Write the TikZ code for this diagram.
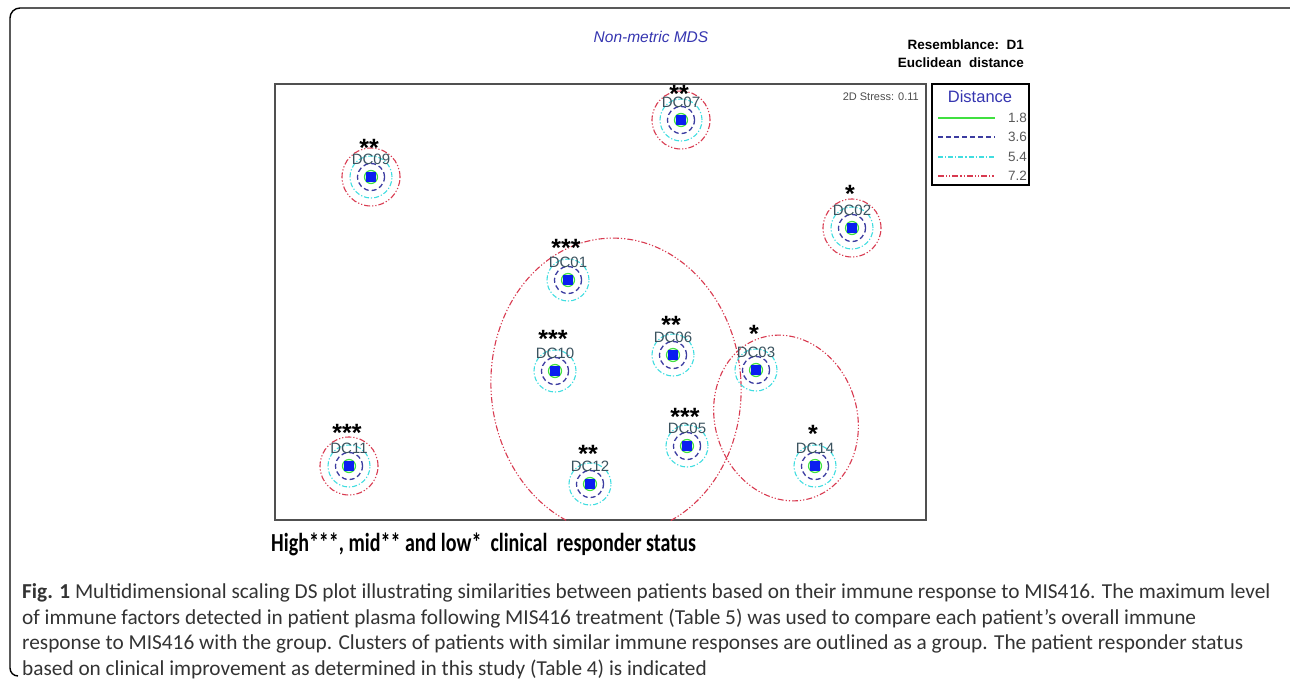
\documentclass[tikz,border=0pt]{standalone}
\usepackage{fontspec}
\newfontfamily\plotfont{Liberation Sans}
\newfontfamily\capfont{Carlito}
\newfontfamily\statusfont[FakeStretch=0.77]{Carlito}
\definecolor{ringgreen}{HTML}{40E040}
\definecolor{ringnavy}{HTML}{3C3CA0}
\definecolor{ringcyan}{HTML}{40DDE0}
\definecolor{ringred}{HTML}{D83A50}
\definecolor{sqblue}{HTML}{0A1EF0}
\definecolor{lblcol}{HTML}{3A525E}
\definecolor{titleblue}{HTML}{3535B0}
\definecolor{boxgray}{HTML}{505050}
\definecolor{capgray}{HTML}{333333}
\tikzset{
  navyring/.style={ringnavy, line width=1.3pt, dash pattern=on 5pt off 3pt},
  cyanring/.style={ringcyan, line width=1.1pt, dash pattern=on 5pt off 2pt on 1.2pt off 2pt},
  redring/.style={ringred, line width=1.1pt, dash pattern=on 6pt off 2pt on 1.2pt off 2pt on 1.2pt off 2pt},
  greenring/.style={ringgreen, line width=1.2pt},
  dclabel/.style={font=\plotfont\fontsize{15}{15}\selectfont, text=lblcol, inner sep=0pt, text height=10.5pt, text depth=0pt},
  starlabel/.style={font=\plotfont\bfseries\fontsize{25}{25}\selectfont, text=black, inner sep=0pt, text height=7pt, text depth=0pt},
  capline/.style={anchor=west, inner sep=0pt, font=\capfont\fontsize{21.3}{22}\selectfont, text=capgray}
}
\begin{document}
\begin{tikzpicture}[x=1pt,y=-1pt]
\useasboundingbox (0,0) rectangle (1290,681);
% outer frame (top and left)
\draw[line width=1.4pt, black] (1290,8) -- (20,8) arc[start angle=90, end angle=180, radius=10pt] -- (10,668) arc[start angle=180, end angle=270, radius=8pt];
% title
\node[font=\plotfont\itshape\fontsize{15.5}{16}\selectfont, text=titleblue, inner sep=0pt] (title) at (651,37) {Non-metric MDS};
\node[font=\plotfont\bfseries\fontsize{13.5}{14}\selectfont, anchor=east, inner sep=0pt] (resem) at (1024,45) {Resemblance:\ \ D1};
\node[font=\plotfont\bfseries\fontsize{13.5}{14}\selectfont, anchor=east, inner sep=0pt] (eucl) at (1024,63) {Euclidean\ \ distance};
% plot box
\draw[boxgray, line width=1.8pt] (275,84) rectangle (926,520);
\node[font=\plotfont\fontsize{11}{12}\selectfont, text=black!70, anchor=east, inner sep=0pt] (stress) at (919,97) {2D Stress: 0.11};
% cluster ellipses
\begin{scope}
\clip (275,84) rectangle (926,520);
\draw[redring] (616,386) ellipse[x radius=125pt, y radius=148pt, rotate=4];
\draw[redring] (786,418) ellipse[x radius=71pt, y radius=84pt, rotate=18];
\end{scope}
% points
\foreach \n/\x/\y/\s/\sy/\r in {
  DC07/681/120/{**}/32/1,
  DC09/371/177/{**}/35/1,
  DC02/852/228/{*}/40/1,
  DC01/568/280/{***}/38/0,
  DC10/555/371/{***}/38/0,
  DC06/673/355/{**}/36/0,
  DC03/756/370/{*}/42/0,
  DC14/815/466/{*}/38/0,
  DC05/687/446/{***}/35/0,
  DC12/590/484/{**}/36/0,
  DC11/349/466/{***}/39/1}{
  \ifnum\r=1
    \draw[redring] (\x,\y) circle[radius=29pt];
  \fi
  \draw[cyanring] (\x,\y) circle[radius=21pt];
  \draw[navyring] (\x,\y) circle[radius=13.5pt];
  \draw[greenring] (\x,\y) circle[radius=6.5pt];
  \node[fill=sqblue, minimum size=10pt, inner sep=0pt] (sq\n) at (\x,\y) {};
  \node[dclabel] (lb\n) at (\x,\y-18) {\n};
  \node[starlabel] (st\n) at (\x-2,\y-\sy) {\raisebox{-11pt}{\s}};
}
% legend
\draw[black, line width=1.3pt] (932,84) rectangle (1029,185);
\node[font=\plotfont\fontsize{16.5}{17}\selectfont, text=titleblue, inner sep=0pt] (legtitle) at (980,97) {Distance};
\coordinate (l1a) at (938,118); \coordinate (l1b) at (995,118);
\coordinate (l2a) at (938,137); \coordinate (l2b) at (995,137);
\coordinate (l3a) at (938,157); \coordinate (l3b) at (995,157);
\coordinate (l4a) at (938,176); \coordinate (l4b) at (995,176);
\draw[greenring] (l1a) -- (l1b);
\draw[navyring] (l2a) -- (l2b);
\draw[cyanring] (l3a) -- (l3b);
\draw[redring] (l4a) -- (l4b);
\foreach \v/\yy in {1.8/118,3.6/137,5.4/157,7.2/176}{
  \node[font=\plotfont\fontsize{13.5}{14}\selectfont, text=black!65, anchor=east, inner sep=0pt] (lv\yy) at (1027,\yy) {\v};
}
% responder status
\node[font=\statusfont\bfseries\fontsize{26}{26}\selectfont, anchor=west, inner sep=0pt] (status) at (271,544) {High***, mid** and low*\ \ clinical\ \ responder status};
% caption
\node[capline] (cap1) at (22,593) {\textbf{Fig. 1} Multidimensional scaling DS plot illustrating similarities between patients based on their immune response to MIS416. The maximum level};
\node[capline] (cap2) at (22,619) {of immune factors detected in patient plasma following MIS416 treatment (Table 5) was used to compare each patient’s overall immune};
\node[capline] (cap3) at (22,644) {response to MIS416 with the group. Clusters of patients with similar immune responses are outlined as a group. The patient responder status};
\node[capline] (cap4) at (22,669) {based on clinical improvement as determined in this study (Table 4) is indicated};
\end{tikzpicture}
\end{document}
